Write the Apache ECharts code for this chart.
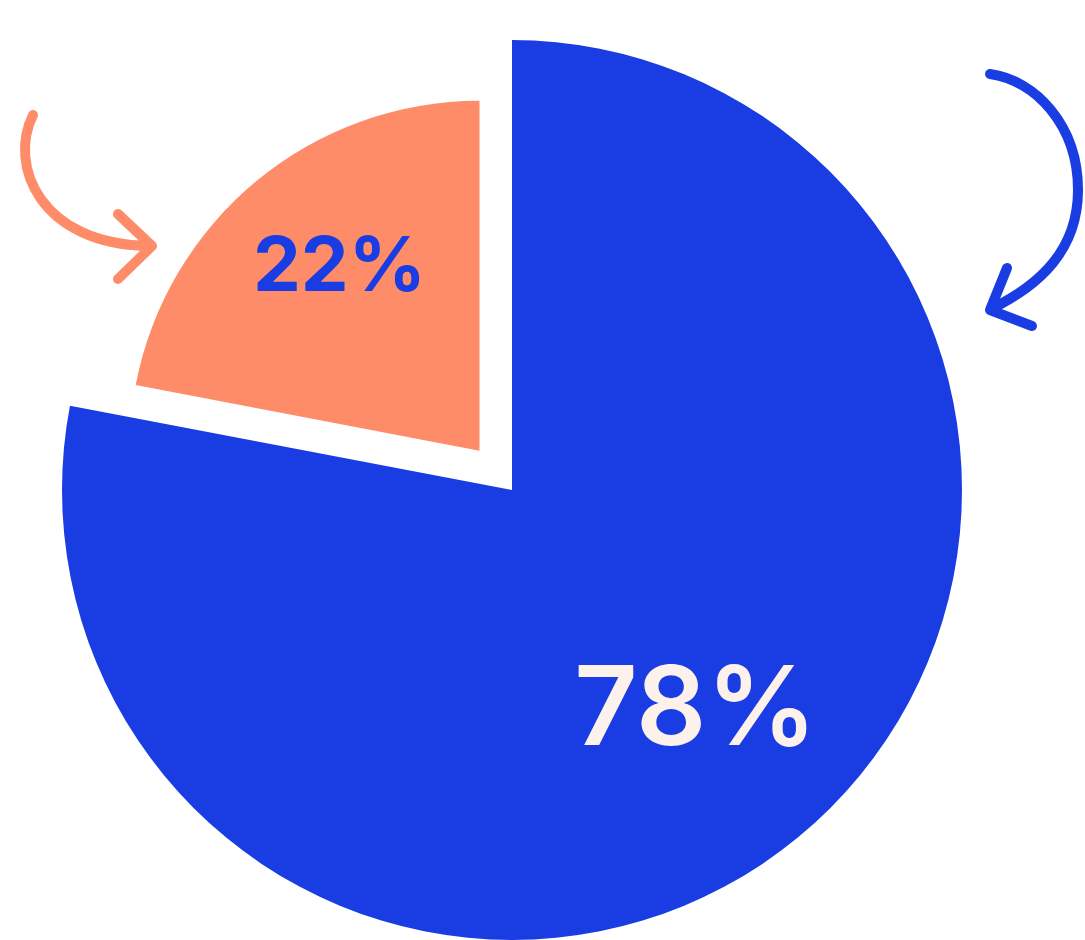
<!DOCTYPE html>
<html>
<head>
<meta charset="utf-8">
<script src="https://cdn.jsdelivr.net/npm/echarts@6/dist/echarts.min.js"></script>
<style>html,body{margin:0;padding:0;background:#fff}#c{width:1085px;height:940px}</style>
</head>
<body>
<div id="c"></div>
<script>
const categories = ['Blue share', 'Orange share'];
const values = [78, 22];
const colors = ['#1a3de3', '#ff8c69'];
const labelColors = ['#fdf1ec', '#1a3de3'];

const chart = echarts.init(document.getElementById('c'), null, {renderer: 'canvas'});
const center = [512, 490];

const blueData = categories.map((n, i) => ({
  name: n, value: values[i],
  itemStyle: {color: i === 0 ? colors[0] : 'rgba(0,0,0,0)'}
}));
const orangeData = categories.map((n, i) => ({
  name: n, value: values[i], selected: i === 1,
  itemStyle: {color: i === 1 ? colors[1] : 'rgba(0,0,0,0)'}
}));
const labelData = categories.map((n, i) => ({
  name: n, value: values[i],
  itemStyle: {color: 'rgba(0,0,0,0)'},
  label: i === 0
    ? {color: labelColors[0], fontSize: 110, fontWeight: 600, padding: [28, 0, 0, 0]}
    : {color: labelColors[1], fontSize: 76, fontWeight: 700, padding: [4, 0, 0, 22]}
}));

const common = {type: 'pie', center: center, startAngle: 90, clockwise: true,
  animation: false, silent: true, emphasis: {disabled: true}, labelLine: {show: false}};

const arrowStyle = c => ({stroke: c, lineWidth: 10, fill: null, lineCap: 'round', lineJoin: 'round'});

chart.setOption({
  backgroundColor: '#ffffff',
  series: [
    Object.assign({}, common, {radius: [0, 450], data: blueData, label: {show: false},
      itemStyle: {borderWidth: 0}}),
    Object.assign({}, common, {radius: [0, 350], data: orangeData, label: {show: false},
      selectedMode: 'single', selectedOffset: 51, itemStyle: {borderWidth: 0}}),
    Object.assign({}, common, {radius: [120, 450], data: labelData,
      itemStyle: {borderWidth: 0},
      label: {show: true, position: 'inside', formatter: '{c}%',
        fontFamily: 'Inter, "Noto Sans", sans-serif'}})
  ],
  graphic: [
    {type: 'bezierCurve', shape: {x1: 33, y1: 115, cpx1: 8, cpy1: 165, cpx2: 40, cpy2: 245, x2: 150, y2: 246},
      style: arrowStyle(colors[1])},
    {type: 'polyline', shape: {points: [[118, 214], [152, 246], [118, 279]]},
      style: arrowStyle(colors[1])},
    {type: 'bezierCurve', shape: {x1: 990, y1: 74, cpx1: 1035, cpy1: 80, cpx2: 1078, cpy2: 125, x2: 1078, y2: 190},
      style: arrowStyle(colors[0])},
    {type: 'bezierCurve', shape: {x1: 1078, y1: 190, cpx1: 1078, cpy1: 250, cpx2: 1040, cpy2: 285, x2: 991, y2: 309},
      style: arrowStyle(colors[0])},
    {type: 'polyline', shape: {points: [[1007, 268], [990, 310], [1032, 326]]},
      style: arrowStyle(colors[0])}
  ]
});
</script>
</body>
</html>
